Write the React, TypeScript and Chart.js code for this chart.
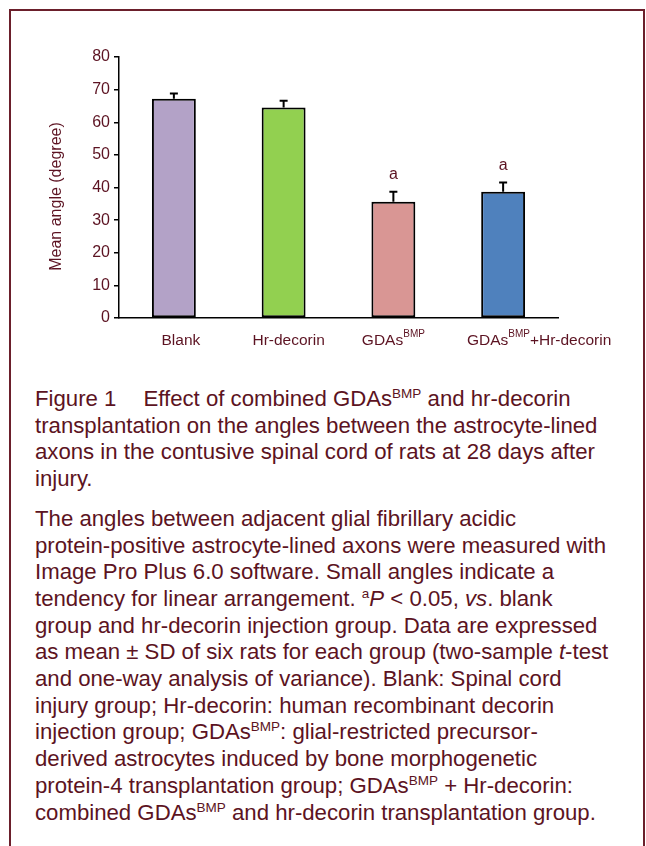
import React, { useEffect, useRef } from 'react';
import { Chart, registerables } from 'chart.js';

Chart.register(...registerables);

// ---- data ----
// '^' toggles superscript segments in a label
const categoryLabels = ['Blank', 'Hr-decorin', 'GDAs^BMP', 'GDAs^BMP^+Hr-decorin'];
const meanAngles = [67.2, 64.5, 35.6, 38.7];
const sdAngles = [1.6, 2.1, 3.1, 2.8];
const significance = ['', '', 'a', 'a'];
const barColors = ['#b3a2c7', '#92d050', '#d99694', '#4f81bd'];
const yMin = 0;
const yMax = 80;
const yStep = 10;
const yTitle = 'Mean angle (degree)';

// ---- style ----
const FONT = "'Liberation Sans', Arial, Helvetica, sans-serif";
const TEXT = '#5c1322';
const BORDER = '#6b1f2b';
const labelShift = [7, 5, 0, 36];

const overlayPlugin = {
  id: 'overlay',
  afterDatasetsDraw(chart: any) {
    const { ctx } = chart;
    const y = chart.scales.y;
    const meta = chart.getDatasetMeta(0);
    ctx.save();
    meta.data.forEach((bar: any, i: number) => {
      const x = bar.x;
      const yTop = y.getPixelForValue(meanAngles[i]);
      const yCap = y.getPixelForValue(meanAngles[i] + sdAngles[i]);
      ctx.strokeStyle = '#000';
      ctx.lineWidth = 2;
      ctx.beginPath();
      ctx.moveTo(x, yTop);
      ctx.lineTo(x, yCap);
      ctx.moveTo(x - 4, yCap);
      ctx.lineTo(x + 4, yCap);
      ctx.stroke();
      if (significance[i]) {
        ctx.fillStyle = TEXT;
        ctx.font = `16px ${FONT}`;
        ctx.textAlign = 'center';
        ctx.textBaseline = 'alphabetic';
        ctx.fillText(significance[i], x, yCap - 13);
      }
    });
    ctx.restore();
  },
  afterDraw(chart: any) {
    const { ctx, chartArea } = chart;
    const xs = chart.scales.x;
    ctx.save();
    ctx.fillStyle = TEXT;
    ctx.textBaseline = 'alphabetic';
    ctx.textAlign = 'left';
    const base = chartArea.bottom + 27;
    categoryLabels.forEach((lab, i) => {
      const segs = lab.split('^');
      let total = 0;
      segs.forEach((s, k) => {
        ctx.font = k % 2 ? `10px ${FONT}` : `15.5px ${FONT}`;
        total += ctx.measureText(s).width;
      });
      let x = xs.getPixelForValue(i) - total / 2 + labelShift[i];
      segs.forEach((s, k) => {
        const sup = k % 2 === 1;
        ctx.font = sup ? `10px ${FONT}` : `15.5px ${FONT}`;
        ctx.fillText(s, x, sup ? base - 8 : base);
        x += ctx.measureText(s).width;
      });
    });
    // y axis title
    ctx.translate(57, (chartArea.top + chartArea.bottom) / 2 + 9);
    ctx.rotate(-Math.PI / 2);
    ctx.font = `16px ${FONT}`;
    ctx.textAlign = 'center';
    ctx.textBaseline = 'middle';
    ctx.fillText(yTitle, 0, 0);
    ctx.restore();
  },
};

function BarChart() {
  const ref = useRef<HTMLCanvasElement | null>(null);
  useEffect(() => {
    if (!ref.current) return;
    const chart = new Chart(ref.current, {
      type: 'bar',
      data: {
        labels: categoryLabels.map((l) => l.replace(/\^/g, '')),
        datasets: [
          {
            data: meanAngles,
            backgroundColor: barColors,
            borderColor: '#000',
            borderWidth: 2,
            borderSkipped: false,
            barPercentage: 0.4,
            categoryPercentage: 1,
          },
        ],
      },
      options: {
        animation: false,
        responsive: false,
        maintainAspectRatio: false,
        layout: { padding: { left: 0, right: 88, top: 57, bottom: 0 } },
        plugins: {
          legend: { display: false },
          tooltip: { enabled: false },
          title: { display: false },
        },
        scales: {
          x: {
            grid: { display: false, drawTicks: false },
            border: { display: true, color: '#000', width: 1.5 },
            ticks: { display: false },
            afterFit: (s: any) => {
              s.height = 62;
            },
          },
          y: {
            min: yMin,
            max: yMax,
            ticks: {
              stepSize: yStep,
              color: TEXT,
              font: { family: FONT, size: 16 },
              padding: 4,
            },
            grid: {
              display: true,
              drawOnChartArea: false,
              drawTicks: true,
              tickLength: 5,
              color: '#000',
              lineWidth: 1.5,
            },
            border: { display: true, color: '#000', width: 1.5 },
            afterFit: (s: any) => {
              s.width = 119;
            },
          },
        },
      },
      plugins: [overlayPlugin],
    });
    return () => chart.destroy();
  }, []);
  return (
    <canvas
      ref={ref}
      width={646}
      height={380}
      style={{ position: 'absolute', left: 0, top: 0, width: 646, height: 380 }}
    />
  );
}

const sup = (t: string) => (
  <sup style={{ fontSize: '13.5px', lineHeight: 0, verticalAlign: '8px' }}>{t}</sup>
);

export default function App() {
  const para: React.CSSProperties = {
    margin: 0,
    whiteSpace: 'nowrap',
    fontFamily: FONT,
    fontSize: '22.2px',
    lineHeight: '26.7px',
    color: TEXT,
  };
  return (
    <div
      style={{
        position: 'absolute',
        left: 0,
        top: 0,
        width: 646,
        height: 846,
        overflow: 'hidden',
        background: '#fff',
      }}
    >
      <div
        style={{
          position: 'absolute',
          left: 9,
          top: 9,
          width: 632,
          height: 900,
          borderLeft: `2px solid ${BORDER}`,
          borderTop: `2px solid ${BORDER}`,
          borderRight: `2px solid ${BORDER}`,
        }}
      />
      <BarChart />
      <div style={{ position: 'absolute', left: 35, top: 386 }}>
        <p style={para}>
          Figure 1<span style={{ display: 'inline-block', width: 27 }} />Effect of combined GDAs{sup('BMP')} and hr-decorin
          <br />
          transplantation on the angles between the astrocyte-lined
          <br />
          axons in the contusive spinal cord of rats at 28 days after
          <br />
          injury.
        </p>
        <p style={{ ...para, marginTop: 13 }}>
          The angles between adjacent glial fibrillary acidic
          <br />
          protein-positive astrocyte-lined axons were measured with
          <br />
          Image Pro Plus 6.0 software. Small angles indicate a
          <br />
          tendency for linear arrangement. {sup('a')}
          <i>P</i> &lt; 0.05, <i>vs</i>. blank
          <br />
          group and hr-decorin injection group. Data are expressed
          <br />
          as mean ± SD of six rats for each group (two-sample <i>t</i>-test
          <br />
          and one-way analysis of variance). Blank: Spinal cord
          <br />
          injury group; Hr-decorin: human recombinant decorin
          <br />
          injection group; GDAs{sup('BMP')}: glial-restricted precursor-
          <br />
          derived astrocytes induced by bone morphogenetic
          <br />
          protein-4 transplantation group; GDAs{sup('BMP')} + Hr-decorin:
          <br />
          combined GDAs{sup('BMP')} and hr-decorin transplantation group.
        </p>
      </div>
    </div>
  );
}
